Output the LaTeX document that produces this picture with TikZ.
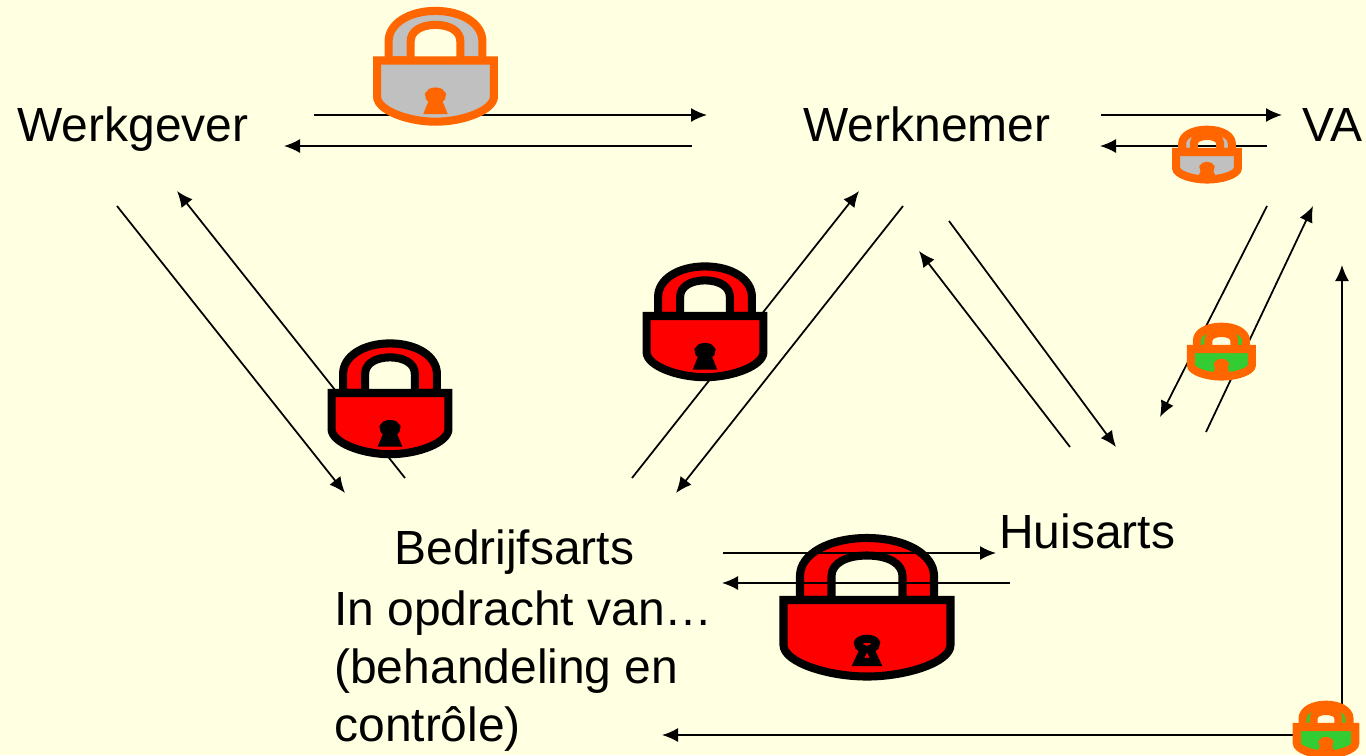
\documentclass[tikz,border=0pt]{standalone}
\usepackage{fontspec}
\setmainfont{Liberation Sans}
\usetikzlibrary{arrows.meta}

\definecolor{paper}{HTML}{FFFFE1}
\definecolor{lockorange}{HTML}{FF6600}
\definecolor{lockgrey}{HTML}{C0C0C0}
\definecolor{lockred}{HTML}{FF0000}
\definecolor{lockgreen}{HTML}{33CC33}

\tikzset{
  party/.style={inner sep=0pt,anchor=base west,font=\fontsize{27.3}{33}\selectfont},
  msg/.style={-{Latex[length=0.32cm,width=0.28cm]},line width=1pt,black},
  pics/padlock/.style 2 args={
    code={
      \begin{scope}[draw=#1,fill=#2,line width=4.6pt]
        \path[draw,fill] (-67,0) -- (-67,-24) .. controls (-67,-46) and (-38,-62) .. (0,-62)
          .. controls (38,-62) and (67,-46) .. (67,-24) -- (67,0) -- (35.5,0) -- (35.5,-24)
          .. controls (35.5,-36) and (22,-44.5) .. (0,-44.5)
          .. controls (-22,-44.5) and (-35.5,-36) .. (-35.5,-24) -- (-35.5,0) -- cycle;
        \path[draw,fill] (-83.5,0) -- (83.5,0) -- (83.5,45)
          .. controls (83.5,62) and (40,76.5) .. (0,76.5)
          .. controls (-40,76.5) and (-83.5,62) .. (-83.5,45) -- cycle;
        % keyhole
        \path[draw,fill] (-3,49) .. controls (-13,46) and (-10,38.75) .. (0,38.75)
          .. controls (10,38.75) and (13,46) .. (3,49) -- (9,62) -- (-9,62) -- cycle;
      \end{scope}
    }
  }
}

\begin{document}
\begin{tikzpicture}[x=0.02cm,y=-0.02cm]
  \fill[paper] (0,0) rectangle (1366,755);
  \useasboundingbox (0,0) rectangle (1366,755);

  % the big lock lies under its two arrows
  \pic at (867,600) {padlock={black}{lockred}};

  \node[party] (werkgever) at (17,141) {Werkgever};
  \node[party] (werknemer) at (803,141) {Werknemer};
  \node[party] (va) at (1302,141) {VA};
  \node[party] (huisarts) at (999,548) {Huisarts};
  \node[party] (bedrijfsarts) at (394,564) {Bedrijfsarts};
  \node[party] (opdracht) at (334,625) {In opdracht van…};
  \node[party] (behandeling) at (334,683) {(behandeling en};
  \node[party] (controle) at (334,741) {contrôle)};

  \coordinate (wg1) at (314,115);
  \coordinate (wn1) at (707,115);
  \coordinate (wn2) at (692,146);
  \coordinate (wg2) at (284,146);
  \coordinate (wn3) at (1101,115);
  \coordinate (va3) at (1282,115);
  \coordinate (va4) at (1267,146);
  \coordinate (wn4) at (1100,146);
  \coordinate (wg5) at (117,206);
  \coordinate (ba5) at (345,493);
  \coordinate (ba6) at (405,478);
  \coordinate (wg6) at (177,191);
  \coordinate (ba7) at (632,478);
  \coordinate (wn7) at (859,191);
  \coordinate (wn8) at (903,206);
  \coordinate (ba8) at (676,493);
  \coordinate (wn9) at (949,221);
  \coordinate (ha9) at (1116,447);
  \coordinate (ha10) at (1070,447);
  \coordinate (wn10) at (919,251);
  \coordinate (va11) at (1267,206);
  \coordinate (ha11) at (1160,417);
  \coordinate (ha12) at (1206,432);
  \coordinate (va12) at (1313,206);
  \coordinate (ba13) at (723,553);
  \coordinate (ha13) at (996,553);
  \coordinate (ha14) at (1010,583);
  \coordinate (ba14) at (722,583);
  \coordinate (corner15) at (1342,720);
  \coordinate (va15) at (1342,265);
  \coordinate (corner16) at (1310,735);
  \coordinate (ba16) at (662,735);

  \foreach \from/\to in {wg1/wn1,wn2/wg2,wn3/va3,va4/wn4,wg5/ba5,ba6/wg6,ba7/wn7,wn8/ba8,
      wn9/ha9,ha10/wn10,va11/ha11,ha12/va12,ba13/ha13,ha14/ba14,corner15/va15,corner16/ba16}
    \draw[msg] (\from) -- (\to);

  \pic[xscale=0.7,yscale=0.8] at (435.5,60.5) {padlock={lockorange}{lockgrey}};
  \pic[xscale=0.7,yscale=0.8] at (390,393) {padlock={black}{lockred}};
  \pic[xscale=0.7,yscale=0.8] at (705,316) {padlock={black}{lockred}};
  \pic[xscale=0.37,yscale=0.36] at (1207,152) {padlock={lockorange}{lockgrey}};
  \pic[xscale=0.365,yscale=0.36] at (1221.4,349) {padlock={lockorange}{lockgreen}};
  \pic[xscale=0.35,yscale=0.36] at (1326,727) {padlock={lockorange}{lockgreen}};
\end{tikzpicture}
\end{document}
